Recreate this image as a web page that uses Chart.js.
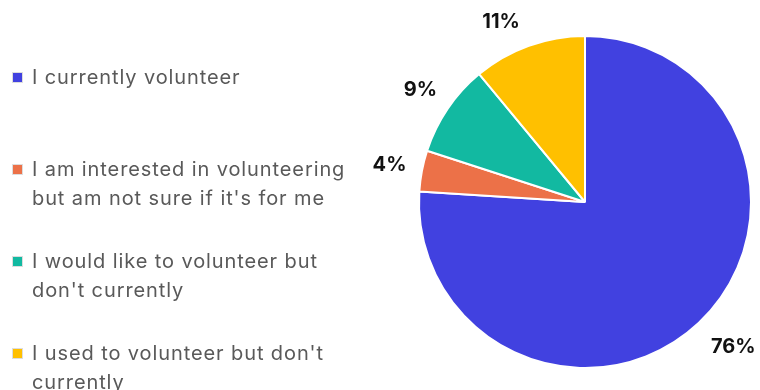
<!DOCTYPE html>
<html>
<head>
<meta charset="utf-8">
<script src="https://cdn.jsdelivr.net/npm/chart.js@4.4.0/dist/chart.umd.min.js"></script>
<style>
  html, body { margin: 0; padding: 0; background: #fff; }
  #wrap { position: relative; width: 760px; height: 390px; overflow: hidden; }
  #chart { position: absolute; left: 0; top: 0; }
  #legend { position: absolute; left: 12px; top: 0; font-family: Inter, sans-serif; font-size: 20px; letter-spacing: 0.9px; color: #595959; line-height: 29px; }
  #legend .item { position: absolute; left: 0; width: 322px; padding-left: 20px; }
  #legend .box { position: absolute; left: 0; top: 9px; width: 9px; height: 9px; border: 1px solid #ddd; }
</style>
</head>
<body>
<div id="wrap">
  <canvas id="chart" width="760" height="390"></canvas>
  <div id="legend"></div>
</div>
<script>
(function(){
    'use strict';

    var labels = [
        'I currently volunteer',
        'I am interested in volunteering but am not sure if it\'s for me',
        'I would like to volunteer but don\'t currently',
        'I used to volunteer but don\'t currently'
    ];
    var shares = [76, 4, 9, 11];
    var colors = ['#4141E0', '#EC7148', '#12B9A1', '#FFC000'];
    var legendTops = [63, 155, 247, 339];

    // Legend on the left, drawn as html
    var legend = document.getElementById('legend');
    labels.forEach(function(text, i){
        var item = document.createElement('div');
        item.className = 'item';
        item.style.top = legendTops[i] + 'px';
        var box = document.createElement('span');
        box.className = 'box';
        box.style.background = colors[i];
        item.appendChild(box);
        item.appendChild(document.createTextNode(text));
        legend.appendChild(item);
    });

    // Percent labels outside each slice
    var outsideLabels = {
        id: 'outsideLabels',
        afterDatasetsDraw: function(chart){
            var ctx = chart.ctx;
            var meta = chart.getDatasetMeta(0);
            ctx.save();
            ctx.font = 'bold 20px Inter, sans-serif';
            ctx.fillStyle = '#111';
            ctx.textAlign = 'center';
            ctx.textBaseline = 'middle';
            meta.data.forEach(function(arc, i){
                var mid = (arc.startAngle + arc.endAngle) / 2;
                // the small top slice label sits a bit further round
                if (i === meta.data.length - 1) mid -= 0.09;
                var r = arc.outerRadius + 33;
                var x = arc.x + Math.cos(mid) * r;
                var y = arc.y + Math.sin(mid) * r;
                if (Math.cos(mid) > 0.3) x += 12;
                ctx.fillText(shares[i] + '%', x, y);
            });
            ctx.restore();
        }
    };

    new Chart(document.getElementById('chart').getContext('2d'), {
        type: 'pie',
        data: {
            labels: labels,
            datasets: [{
                data: shares,
                backgroundColor: colors,
                borderColor: '#fff',
                borderWidth: 2,
                hoverOffset: 0
            }]
        },
        options: {
            responsive: false,
            animation: false,
            layout: { padding: { left: 418, right: 8, top: 35, bottom: 21 } },
            plugins: {
                legend: { display: false },
                tooltip: { enabled: false }
            }
        },
        plugins: [outsideLabels]
    });
})();
</script>
</body>
</html>
